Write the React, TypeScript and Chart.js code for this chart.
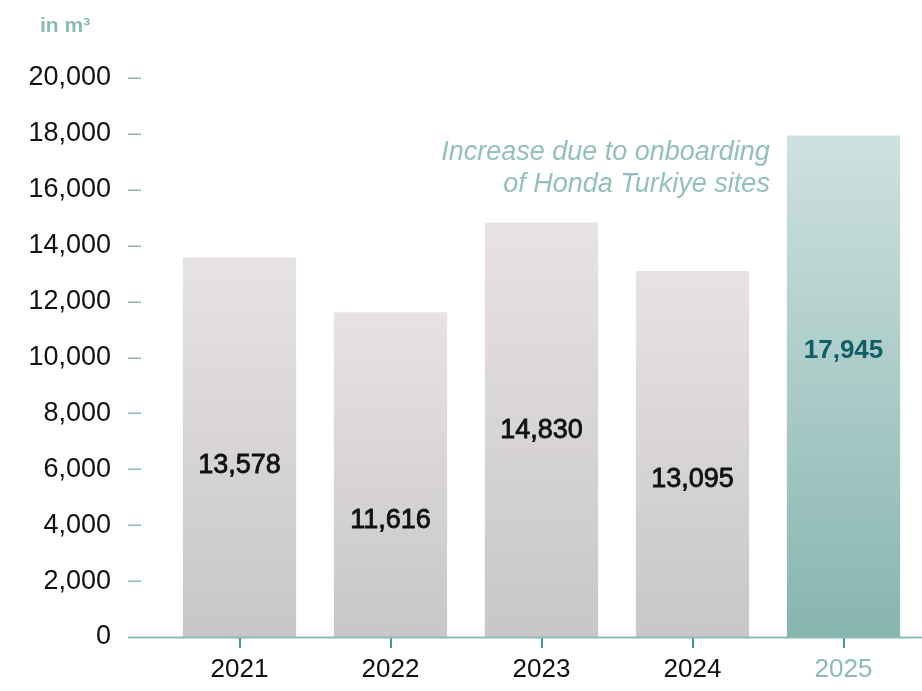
import React, { useEffect, useRef } from "react";
import { Chart, registerables } from "chart.js";

Chart.register(...registerables);

const years = ["2021", "2022", "2023", "2024", "2025"];
const volumes = [13578, 11616, 14830, 13095, 17945];
const valueLabels = ["13,578", "11,616", "14,830", "13,095", "17,945"];
// vertical position (in data units) of each in-bar value label
const labelLevels = [6150, 4150, 7370, 5620, 10230];
const highlightIndex = 4;
const yTicks = [0, 2000, 4000, 6000, 8000, 10000, 12000, 14000, 16000, 18000, 20000];
const unitTitle = "in m³";
const noteLines = ["Increase due to onboarding", "of Honda Turkiye sites"];

const TEAL_LIGHT = "#8bbbb6";
const TEAL_TICK = "#3b9a93";
const TEAL_DARK = "#0f5f66";
const FONT = "'Liberation Sans', Arial, Helvetica, sans-serif";

export default function App() {
  const ref = useRef<HTMLCanvasElement | null>(null);

  useEffect(() => {
    const canvas = ref.current;
    if (!canvas) return;

    const overlay = {
      id: "overlay",
      afterDatasetsDraw(chart: any) {
        const { ctx, chartArea, scales } = chart;
        const y = scales.y;
        const x = scales.x;
        ctx.save();
        // y tick dashes
        ctx.strokeStyle = TEAL_LIGHT;
        ctx.lineWidth = 1.5;
        yTicks.forEach((t) => {
          if (t === 0) return;
          const py = Math.round(y.getPixelForValue(t)) + 0.25;
          ctx.beginPath();
          ctx.moveTo(chartArea.left - 36, py);
          ctx.lineTo(chartArea.left - 23, py);
          ctx.stroke();
        });
        // baseline
        ctx.strokeStyle = TEAL_LIGHT;
        ctx.lineWidth = 2;
        const by = y.getPixelForValue(0) + 0.5;
        ctx.beginPath();
        ctx.moveTo(chartArea.left - 36, by);
        ctx.lineTo(chart.width, by);
        ctx.stroke();
        // value labels
        ctx.textAlign = "center";
        ctx.textBaseline = "middle";
        volumes.forEach((v, i) => {
          const px = x.getPixelForValue(i);
          const py = y.getPixelForValue(labelLevels[i]);
          const hl = i === highlightIndex;
          if (hl) {
            ctx.fillStyle = TEAL_DARK;
            ctx.font = `bold 26px ${FONT}`;
            ctx.fillText(valueLabels[i], px, py);
          } else {
            ctx.fillStyle = "#111111";
            ctx.strokeStyle = "#111111";
            ctx.lineWidth = 0.8;
            ctx.font = `27px ${FONT}`;
            ctx.fillText(valueLabels[i], px, py);
            ctx.strokeText(valueLabels[i], px, py);
          }
        });
        // title
        ctx.textAlign = "left";
        ctx.fillStyle = TEAL_LIGHT;
        ctx.font = `bold 21px ${FONT}`;
        ctx.fillText(unitTitle, chartArea.left - 124, 26);
        // annotation
        const meta = chart.getDatasetMeta(0);
        const bar = meta.data[highlightIndex];
        const barLeft = bar.x - bar.width / 2;
        ctx.textAlign = "right";
        ctx.font = `italic 27px ${FONT}`;
        ctx.fillStyle = "#93c0bb";
        ctx.fillText(noteLines[0], barLeft - 17, 152);
        ctx.fillText(noteLines[1], barLeft - 17, 184);
        ctx.restore();
      },
    };

    const chart = new Chart(canvas, {
      type: "bar",
      data: {
        labels: years,
        datasets: [
          {
            data: volumes,
            barPercentage: 0.75,
            categoryPercentage: 1,
            borderWidth: 0,
            backgroundColor: (c: any) => {
              const ch = c.chart;
              const sy = ch.scales && ch.scales.y;
              const fallback = c.dataIndex === highlightIndex ? "#aacbc7" : "#d8d5d5";
              if (!sy || c.raw == null) return fallback;
              const top = sy.getPixelForValue(c.raw);
              const bot = sy.getPixelForValue(0);
              if (!isFinite(top) || !isFinite(bot) || top === bot) return fallback;
              const g = ch.ctx.createLinearGradient(0, top, 0, bot);
              if (c.dataIndex === highlightIndex) {
                g.addColorStop(0, "#cee1df");
                g.addColorStop(1, "#87b5b0");
              } else {
                g.addColorStop(0, "#e8e3e3");
                g.addColorStop(1, "#c8c6c6");
              }
              return g;
            },
          },
        ],
      },
      options: {
        animation: false,
        responsive: false,
        maintainAspectRatio: false,
        layout: { padding: { top: 78, right: 3, left: 0, bottom: 0 } },
        plugins: { legend: { display: false }, tooltip: { enabled: false }, title: { display: false } },
        scales: {
          x: {
            offset: true,
            border: { display: false },
            grid: {
              offset: false,
              drawOnChartArea: false,
              drawTicks: true,
              tickLength: 11,
              lineWidth: 2,
              color: TEAL_TICK,
            },
            ticks: {
              padding: 6,
              font: { family: FONT, size: 26 },
              color: (c: any) => (c.index === highlightIndex ? TEAL_LIGHT : "#111111"),
            },
            afterFit: (s: any) => {
              s.height = 54;
            },
          },
          y: {
            min: 0,
            max: 20000,
            border: { display: false },
            grid: { display: false, drawTicks: false },
            afterBuildTicks: (s: any) => {
              s.ticks = yTicks.map((v) => ({ value: v }));
            },
            ticks: {
              padding: 53,
              font: { family: FONT, size: 27 },
              color: "#111111",
              callback: (v: any) => Number(v).toLocaleString("en-US"),
            },
            afterFit: (s: any) => {
              s.width = 164;
              s.paddingTop = 16;
              s.paddingBottom = 16;
            },
          },
        },
      },
      plugins: [overlay],
    });

    return () => chart.destroy();
  }, []);

  return (
    <div style={{ position: "absolute", left: 0, top: 0, width: 922, height: 691, background: "#ffffff" }}>
      <canvas ref={ref} width={922} height={691} style={{ width: 922, height: 691, display: "block" }} />
    </div>
  );
}
